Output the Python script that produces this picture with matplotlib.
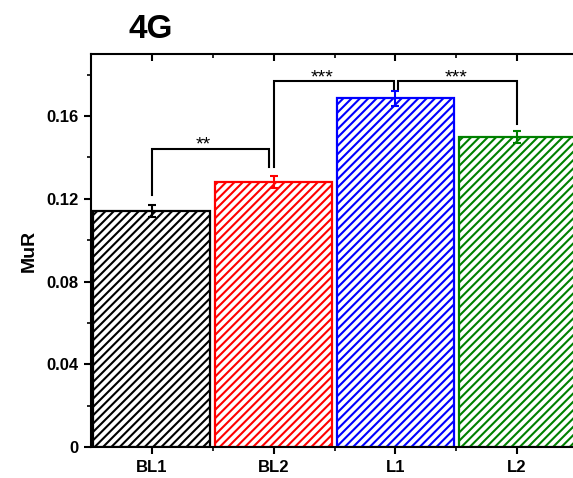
import matplotlib
matplotlib.use('Agg')
import matplotlib.pyplot as plt
from matplotlib.ticker import FixedLocator, FuncFormatter, MultipleLocator

plt.rcParams['font.family'] = ['Liberation Sans', 'DejaVu Sans']
plt.rcParams['font.weight'] = 'bold'
plt.rcParams['hatch.linewidth'] = 1.5

groups = ['BL1', 'BL2', 'L1', 'L2']
mur = [0.1142, 0.1279, 0.1686, 0.1498]
mur_err = [0.0030, 0.0029, 0.0036, 0.0030]
colors = ['black', 'red', 'blue', 'green']

# significance brackets: (left x, right x, bar y, left foot, right foot, stars x, stars)
brackets = [
    (1.0, 1.96, 0.1443, 0.1216, 0.1352, 1.42, '**'),
    (2.0, 2.99, 0.1768, 0.1352, 0.1730, 2.40, '***'),
    (3.02, 4.0, 0.1768, 0.1730, 0.1560, 3.50, '***'),
]

fig = plt.figure(figsize=(5.73, 4.78), dpi=100)
ax = fig.add_axes([91 / 573, 31 / 478, 487 / 573, 393 / 478])

xs = list(range(1, len(groups) + 1))
ax.bar(xs, mur, width=0.96, color='white', edgecolor=colors,
       linewidth=1.6, hatch='////', zorder=2)
for x, m, e, c in zip(xs, mur, mur_err, colors):
    ax.errorbar(x, m, yerr=e, color=c, capsize=3.2, elinewidth=1.5,
                capthick=1.5, zorder=3)

for x1, x2, y, f1, f2, sx, stars in brackets:
    ax.plot([x1, x1, x2, x2], [f1, y, y, f2], color='black', lw=1.5,
            solid_joinstyle='miter', zorder=4)
    ax.annotate(stars, (sx, y), xytext=(0, -1),
                textcoords='offset points', ha='center', va='baseline',
                fontsize=14, fontweight='normal')

ax.set_xlim(0.5, 4.5)
ax.set_ylim(0, 0.19)
ax.set_xticks(xs)
ax.set_xticklabels(groups)
ax.xaxis.set_minor_locator(FixedLocator([1.5, 2.5, 3.5]))
ax.yaxis.set_major_locator(MultipleLocator(0.04))
ax.yaxis.set_minor_locator(MultipleLocator(0.02))
ax.yaxis.set_major_formatter(FuncFormatter(lambda v, p: '0' if v == 0 else f'{v:.2f}'))

for s in ax.spines.values():
    s.set_linewidth(1.5)
ax.tick_params(which='major', length=5, width=1.5, labelsize=12, pad=4)
ax.tick_params(which='minor', length=3, width=1.2)
ax.tick_params(which='both', direction='out', top=True, right=True,
               labeltop=False, labelright=False)

# mirrored ticks on top/right point inward
for t in ax.xaxis.get_major_ticks() + ax.xaxis.get_minor_ticks():
    t.tick2line.set_marker(3)
for t in ax.yaxis.get_major_ticks() + ax.yaxis.get_minor_ticks():
    t.tick2line.set_marker(1)

ax.set_ylabel('MuR', fontsize=14, fontweight='bold', labelpad=6)
fig.text(151 / 573, 1 - 30 / 478, '4G', fontsize=24, fontweight='bold',
         ha='center', va='center')

fig.savefig('out.png', dpi=100)
